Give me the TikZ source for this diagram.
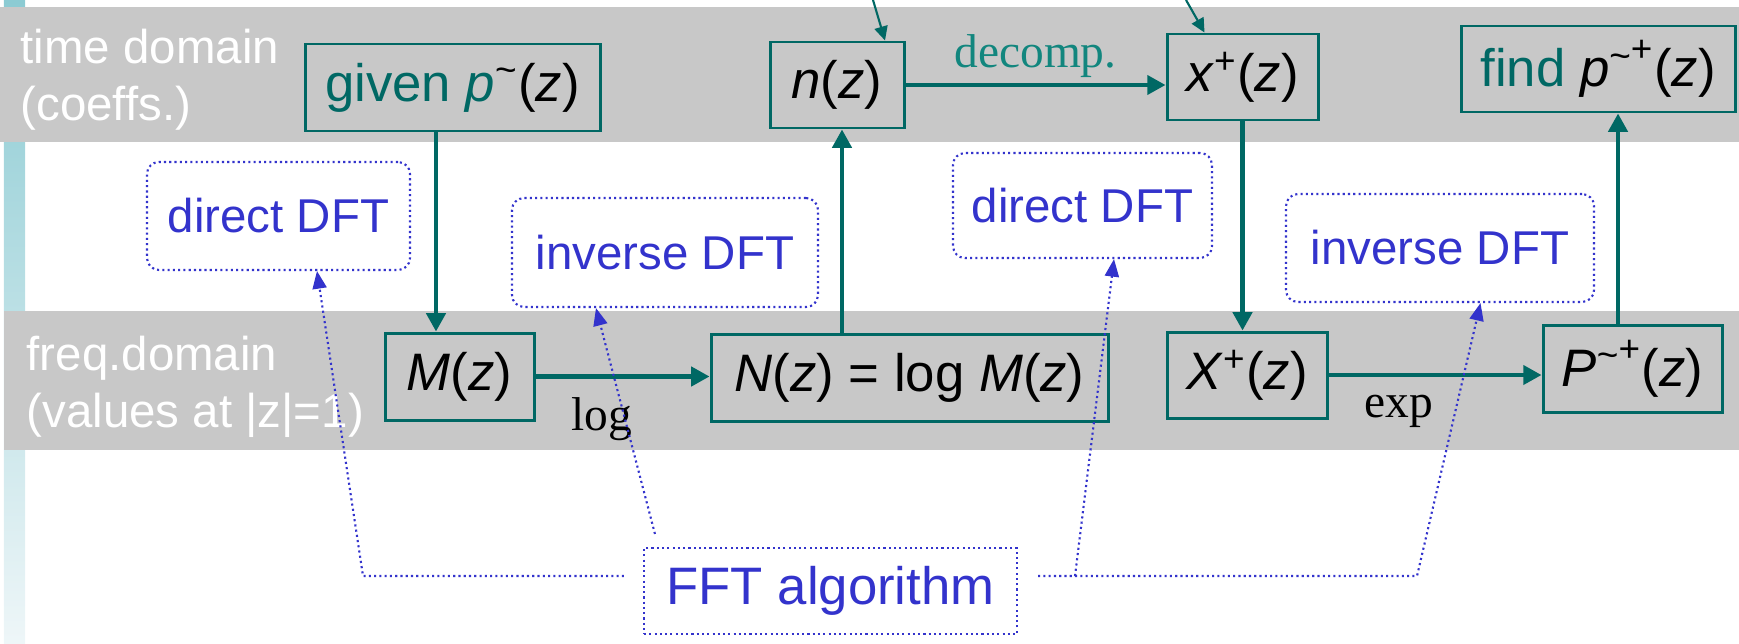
\documentclass[tikz,border=0pt]{standalone}
\usepackage{fontspec}
\setmainfont{Liberation Sans}
\newfontfamily\serifrm{Liberation Serif}
\usetikzlibrary{arrows.meta}

\definecolor{tealline}{RGB}{0,104,100}
\definecolor{tealtext}{RGB}{18,134,126}
\definecolor{hintblue}{RGB}{51,51,204}
\definecolor{bandgray}{RGB}{200,200,200}
\definecolor{stripA}{RGB}{140,203,211}
\definecolor{stripB}{RGB}{238,246,248}

\tikzset{
  stage/.style={draw=tealline, line width=0.85pt, inner sep=0pt, minimum height=0.87cm,
    font=\fontsize{15}{18}\selectfont},
  hintbox/.style={draw=hintblue, line width=0.6pt, dash pattern=on 0.6pt off 0.9pt,
    rounded corners=0.12cm, inner sep=0pt, text=hintblue, font=\fontsize{13.5}{16}\selectfont},
  flow/.style={draw=tealline, line width=1.2pt, -{Triangle[length=5.2pt,width=5.4pt]}},
  feed/.style={draw=tealline, line width=0.6pt, -{Triangle[length=4pt,width=3.8pt]}},
  hint/.style={draw=hintblue, line width=0.6pt, dash pattern=on 0.6pt off 0.9pt,
    -{Triangle[length=5pt,width=4pt]}},
  bandlabel/.style={text=white, align=left, inner sep=0pt, anchor=north west,
    font=\fontsize{13.5}{16.3}\selectfont},
  oplabel/.style={inner sep=1pt, font=\serifrm\fontsize{13.5}{16}\selectfont},
}

\begin{document}
\begin{tikzpicture}
  \useasboundingbox (0,0) rectangle (17.39,6.43);

  % Side strip and the two domain bands
  \shade[top color=stripA, bottom color=stripB] (0.04,0) rectangle (0.25,6.43);
  \fill[bandgray] (0,5.01) rectangle (17.39,6.36);
  \fill[bandgray] (0.04,1.93) rectangle (17.39,3.32);
  \node[bandlabel] (tlab) at (0.20,6.15) {time domain\\(coeffs.)};
  \node[bandlabel] (flab) at (0.26,3.08) {freq.domain\\(values at |z|=1)};

  % Time domain row
  \node[stage, minimum width=2.95cm] (given) at (4.525,5.555)
    {{\color{tealline}given \textit{p}}\textsuperscript{\textasciitilde}(\textit{z})};
  \node[stage, minimum width=1.34cm, minimum height=0.86cm] (n) at (8.37,5.58)
    {\textit{n}(\textit{z})};
  \node[stage, minimum width=1.51cm, minimum height=0.86cm] (xp) at (12.425,5.66)
    {\textit{x}\textsuperscript{+}(\textit{z})};
  \node[stage, minimum width=2.74cm, minimum height=0.86cm] (find) at (15.98,5.74)
    {{\color{tealline}find} \textit{p}\textsuperscript{\textasciitilde\raisebox{.35ex}{+}}(\textit{z})};

  % Frequency domain row
  \node[stage, minimum width=1.49cm] (M) at (4.595,2.665) {\textit{M}(\textit{z})};
  \node[stage, minimum width=3.97cm] (N) at (9.095,2.655)
    {\textit{N}(\textit{z}) = log \textit{M}(\textit{z})};
  \node[stage, minimum width=1.6cm, minimum height=0.86cm] (X) at (12.47,2.68)
    {\textit{X}\textsuperscript{+}(\textit{z})};
  \node[stage, minimum width=1.79cm] (P) at (16.325,2.745)
    {\textit{P}\textsuperscript{\textasciitilde\raisebox{.35ex}{+}}(\textit{z})};

  % Transform notes
  \node[hintbox, minimum width=2.63cm, minimum height=1.08cm] (d1) at (2.785,4.27) {direct DFT};
  \node[hintbox, minimum width=3.06cm, minimum height=1.09cm] (i1) at (6.65,3.905) {inverse DFT};
  \node[hintbox, minimum width=2.59cm, minimum height=1.05cm] (d2) at (10.825,4.375) {direct DFT};
  \node[hintbox, minimum width=3.08cm, minimum height=1.08cm] (i2) at (14.40,3.95) {inverse DFT};
  \node[hintbox, rounded corners=0pt, minimum width=3.73cm, minimum height=0.86cm,
    font=\fontsize{15}{18}\selectfont] (fft) at (8.305,0.52) {FFT algorithm};

  % Inputs coming in from above
  \coordinate (inn) at (8.73,6.43);
  \coordinate (inx) at (11.86,6.43);
  \draw[feed] (inn) -- ([xshift=4.8mm]n.north);
  \draw[feed] (inx) -- ([xshift=-3.8mm]xp.north);

  % Main chain
  \draw[flow] ([xshift=-1.65mm]given.south) -- ([xshift=-1.65mm]given.south |- M.north);
  \draw[flow] (M.east) -- (M.east -| N.west) node[oplabel, pos=.38, below=4.5pt] {log};
  \draw[flow] ([xshift=0.5mm]n.south |- N.north) -- ([xshift=0.5mm]n.south);
  \draw[flow] (n.east) -- (n.east -| xp.west)
    node[oplabel, midway, above=0.5pt, text=tealtext] {decomp.};
  \draw[flow] (xp.south) -- (xp.south |- X.north);
  \draw[flow] (X.east) -- (X.east -| P.west) node[oplabel, pos=.33, below=4pt] {exp};
  \draw[flow] ([xshift=-1.45mm]P.north) -- ([xshift=-1.45mm]P.north |- find.south);

  % FFT pointers
  \coordinate (fftl) at (3.63,0.67);
  \coordinate (fftm) at (10.75,0.67);
  \coordinate (fftr) at (14.17,0.67);
  \draw[hint] ([shift={(-1.9mm,1.5mm)}]fft.west) -- (fftl) -- ([xshift=3.85mm]d1.south);
  \draw[hint] ([shift={(1.2mm,1.3mm)}]fft.north west) -- ([xshift=-6.9mm]i1.south);
  \draw[hint] ([shift={(2mm,1.5mm)}]fft.east) -- (fftr) -- ([xshift=4.05mm]i2.south);
  \draw[hint] (fftm) -- ([xshift=3.15mm]d2.south);
\end{tikzpicture}
\end{document}
